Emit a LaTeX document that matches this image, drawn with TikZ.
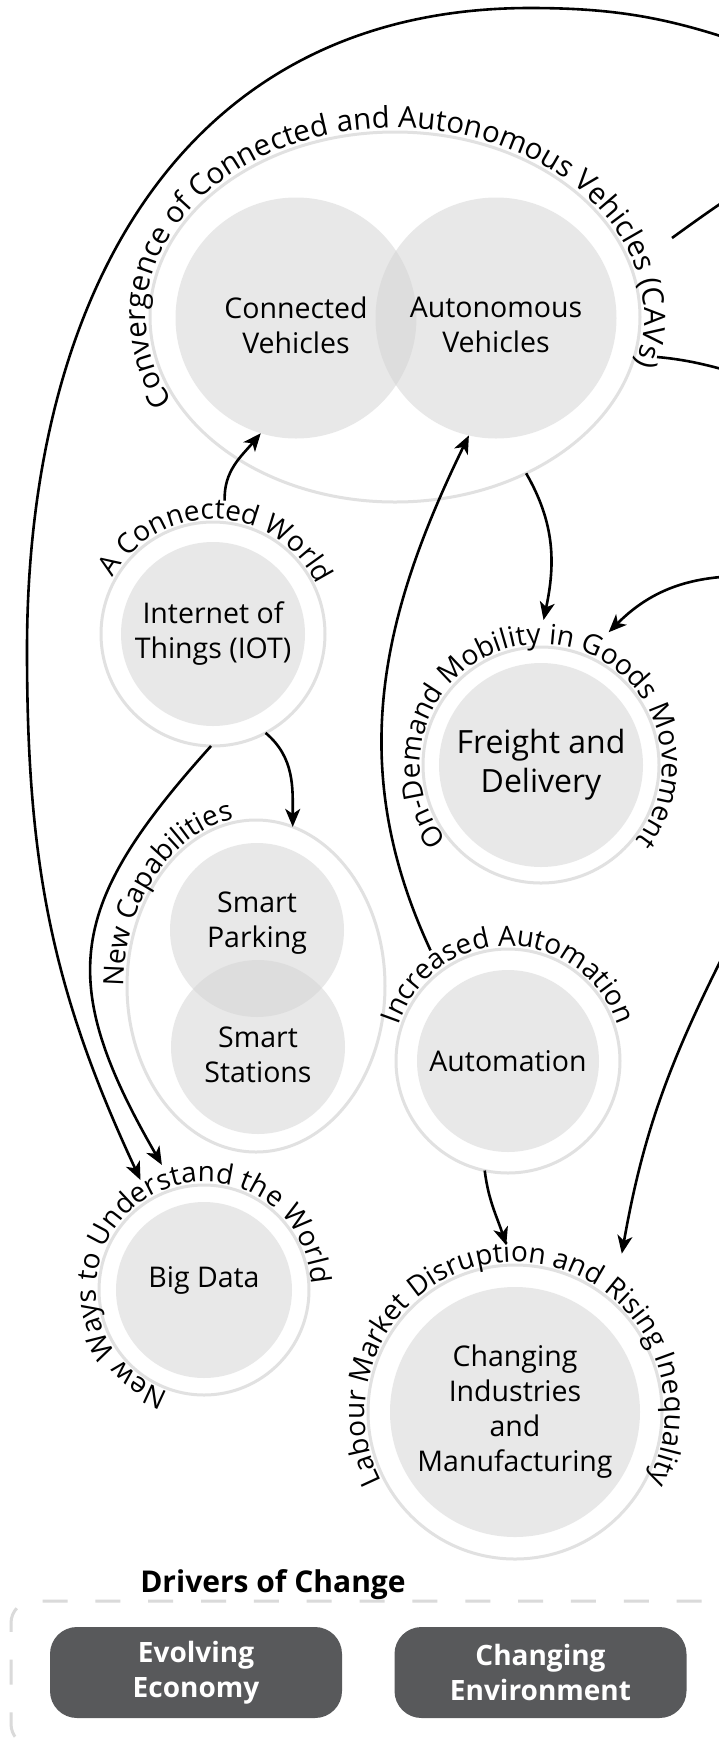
\documentclass[tikz,border=0pt]{standalone}
\usepackage{fontspec}
\setmainfont{Open Sans}
\usetikzlibrary{arrows.meta,calc,shapes.geometric,decorations.text}
\definecolor{BubbleGray}{HTML}{D3D3D3}
\definecolor{RingGray}{HTML}{E1E1E1}
\definecolor{DriverGray}{HTML}{58595B}
\definecolor{DashGray}{HTML}{DADADA}
\newcommand{\bubblefont}{\fontsize{28.5}{35}\selectfont}
\newcommand{\bigbubblefont}{\fontsize{32}{39}\selectfont}
\newcommand{\labelfont}{\fontsize{28}{34}\selectfont}
\newcommand{\biglabelfont}{\fontsize{29.5}{35}\selectfont}
\newcommand{\driverfont}{\bfseries\fontsize{28}{35}\selectfont}
\newcommand{\headfont}{\bfseries\fontsize{30}{36}\selectfont}
% text round a ring: [font] centre, x radius, y radius, middle angle, text
\newcommand{\ringlabel}[6][\labelfont]{%
  \path[decorate, decoration={text along path, text align=center,
      text={|#1|#6}}]
    ($(#2)+(#5+150:#3 and #4)$)
    arc[start angle=#5+150, delta angle=-300, x radius=#3, y radius=#4];
}

\begin{document}
\begin{tikzpicture}[
    x=1pt, y=1pt,
    every node/.style={align=center, inner sep=0pt, outer sep=0pt},
    bubble/.style={circle, fill=BubbleGray, fill opacity=0.5, text opacity=1, font=\bubblefont},
    caption/.style={font=\bubblefont},
    ring/.style={circle, draw=RingGray, line width=3pt},
    ellring/.style={ellipse, draw=RingGray, line width=3pt},
    driver/.style={fill=DriverGray, text=white, rounded corners=27pt, minimum width=292pt, minimum height=91pt, font=\driverfont},
    arrow/.style={line width=2.6pt, -{Stealth[length=18pt, width=15pt, inset=5pt]}},
    link/.style={line width=2.6pt},
    frame/.style={DashGray, line width=3pt, rounded corners=22pt, dash pattern=on 25pt off 27.84pt, dash phase=29pt}
  ]
  \useasboundingbox (0,0) rectangle (719,-1741);
  \fill[white] (0,0) rectangle (719,-1741);
  \clip (0,0) rectangle (719,-1741);

  % CAVs
  \node[ellring, minimum width=490pt, minimum height=370pt] (cav) at (395,-317) {};
  \node[bubble, minimum size=241pt] (cv) at (296,-318) {};
  \node[bubble, minimum size=241pt] (av) at (496,-318) {};
  \node[caption] (cv-text) at (296,-325) {Connected\\Vehicles};
  \node[caption] (av-text) at (496,-325) {Autonomous\\Vehicles};

  % IOT
  \node[ring, minimum size=224pt] (iotring) at (213,-634) {};
  \node[bubble, minimum size=184pt] (iot) at (213,-634) {Internet of\\Things (IOT)};

  % smart parking and stations
  \node[ellring, minimum width=258pt, minimum height=332pt] (smart) at (256,-986) {};
  \node[bubble, minimum size=174pt] (parking) at (257,-930) {};
  \node[bubble, minimum size=174pt] (stations) at (258,-1047) {};
  \node[caption] (parking-text) at (257,-923) {Smart\\Parking};
  \node[caption] (stations-text) at (258,-1055) {Smart\\Stations};

  % goods movement
  \node[ring, minimum size=236pt] (freightring) at (541,-765) {};
  \node[bubble, minimum size=204pt, font=\bigbubblefont] (freight) at (541,-765) {Freight and\\Delivery};

  % automation
  \node[ring, minimum size=224pt] (autoring) at (508,-1061) {};
  \node[bubble, minimum size=182pt] (auto) at (508,-1061) {Automation};

  % big data
  \node[ring, minimum size=210pt] (bigdataring) at (204,-1290) {};
  \node[bubble, minimum size=176pt] (bigdata) at (204,-1290) {};
  \node[caption] (bigdata-text) at (204,-1280) {Big Data};

  % labour market
  \node[ring, minimum size=294pt] (labourring) at (515,-1412) {};
  \node[bubble, minimum size=250pt] (labour) at (515,-1412) {Changing\\Industries\\and\\Manufacturing};

  \ringlabel[\biglabelfont]{cav}{249}{189}{95}{Convergence of Connected and Autonomous Vehicles (CAVs)}
  \ringlabel{iot}{115}{115}{88}{A Connected World}
  \ringlabel{smart}{132}{169}{141}{New Capabilities}
  \ringlabel{freight}{121}{121}{90}{On-Demand Mobility in Goods Movement}
  \ringlabel{auto}{115}{115}{90}{Increased Automation}
  \ringlabel{bigdata}{108}{108}{127}{New Ways to Understand the World}
  \ringlabel{labour}{150}{150}{90}{Labour Market Disruption and Rising Inequality}

  % links leaving the picture
  \coordinate (east-top) at (770,-53);
  \coordinate (top) at (530,-8);
  \coordinate (west) at (27,-650);
  \coordinate (east-cav1) at (780,-165);
  \coordinate (east-cav2) at (780,-384);
  \coordinate (east-goods) at (745,-576);
  \coordinate (east-labour) at (734,-934);

  \draw[arrow] ($(iot)+(85:134)$) to[out=92, in=230] (cv.253);
  \draw[arrow] ($(auto)+(125:135)$) to[out=115, in=244] (av.257);
  \draw[arrow] (cav.-50) to[out=-60, in=78] ($(freight)+(89:145)$);
  \draw[arrow] (east-goods) to[out=180, in=45] ($(freight)+(63:149)$);
  \draw[arrow] (east-labour) to[out=243, in=80] ($(labour)+(56:191)$);
  \draw[arrow] (autoring.258) to[out=-83, in=108] ($(labour)+(93:167)$);
  \draw[arrow] (iotring.-62) to[out=-40, in=90] (smart.77);
  \draw[arrow] (iotring.269) to[out=228, in=120, looseness=1.3] ($(bigdata)+(108.6:132)$);
  \draw[arrow] (east-top) to[out=160, in=0] (top)
    to[out=180, in=90, looseness=1.1] (west)
    to[out=-90, in=115] ($(bigdata)+(120:127)$);
  \draw[link] ($(cav)+(277,79)$) to[out=36, in=212] (east-cav1);
  \draw[link] ($(cav)+(262,-40)$) to[out=-5, in=168] (east-cav2);

  % drivers of change
  \draw[frame] (300,-1746) -- (11,-1746) -- (11,-1601) -- (800,-1601);
  \node[font=\headfont] (drivers) at (273,-1585) {Drivers of Change};
  \node[driver] (economy) at (196,-1672.5) {Evolving\\Economy};
  \node[driver] (environment) at (540.5,-1672.5) {Changing\\Environment};

\end{tikzpicture}
\end{document}
